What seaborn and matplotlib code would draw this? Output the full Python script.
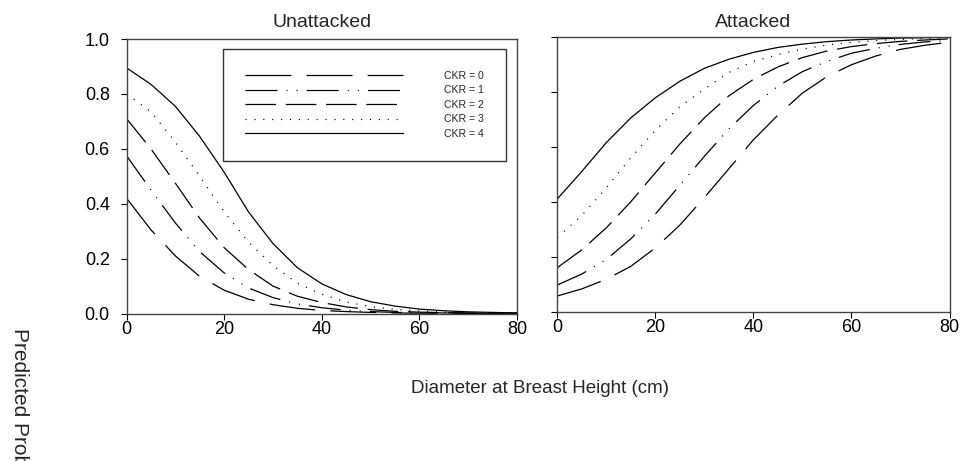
import matplotlib
matplotlib.use("Agg")
import matplotlib.pyplot as plt
import seaborn as sns
import pandas as pd

# --- data ---
dbh = [0, 5, 10, 15, 20, 25, 30, 35, 40, 45, 50, 55, 60, 65, 70, 75, 80]
ckr_labels = ["CKR = 0", "CKR = 1", "CKR = 2", "CKR = 3", "CKR = 4"]

unatt_ckr0 = [0.42, 0.305, 0.21, 0.135, 0.085, 0.052, 0.032, 0.019, 0.011, 0.007, 0.004, 0.002, 0.001, 0.001, 0.0005, 0.0003, 0.0002]
unatt_ckr1 = [0.575, 0.45, 0.33, 0.225, 0.148, 0.093, 0.058, 0.035, 0.021, 0.012, 0.007, 0.004, 0.003, 0.002, 0.001, 0.001, 0.0005]
unatt_ckr2 = [0.71, 0.60, 0.475, 0.347, 0.24, 0.16, 0.10, 0.063, 0.04, 0.024, 0.014, 0.008, 0.005, 0.003, 0.002, 0.001, 0.001]
unatt_ckr3 = [0.80, 0.735, 0.625, 0.50, 0.37, 0.26, 0.175, 0.11, 0.07, 0.042, 0.025, 0.015, 0.009, 0.005, 0.003, 0.002, 0.001]
unatt_ckr4 = [0.895, 0.835, 0.755, 0.645, 0.515, 0.37, 0.255, 0.167, 0.108, 0.069, 0.043, 0.027, 0.016, 0.010, 0.006, 0.004, 0.002]

att_ckr0 = [0.057, 0.083, 0.118, 0.165, 0.232, 0.315, 0.415, 0.52, 0.625, 0.715, 0.795, 0.855, 0.898, 0.93, 0.954, 0.969, 0.98]
att_ckr1 = [0.097, 0.137, 0.19, 0.265, 0.355, 0.46, 0.565, 0.665, 0.75, 0.82, 0.873, 0.91, 0.94, 0.958, 0.972, 0.981, 0.987]
att_ckr2 = [0.16, 0.225, 0.305, 0.40, 0.505, 0.61, 0.705, 0.785, 0.845, 0.89, 0.924, 0.948, 0.964, 0.975, 0.983, 0.988, 0.992]
att_ckr3 = [0.27, 0.35, 0.45, 0.56, 0.66, 0.745, 0.81, 0.87, 0.91, 0.935, 0.955, 0.97, 0.979, 0.986, 0.99, 0.993, 0.995]
att_ckr4 = [0.41, 0.51, 0.615, 0.705, 0.778, 0.838, 0.885, 0.918, 0.943, 0.961, 0.973, 0.982, 0.988, 0.992, 0.995, 0.9965, 0.9976]

x_ticks = [0, 20, 40, 60, 80]
y_ticks = [0.0, 0.2, 0.4, 0.6, 0.8, 1.0]


def long_table(series):
    rows = []
    for lab, vals in zip(ckr_labels, series):
        for d, p in zip(dbh, vals):
            rows.append({"DBH": d, "P": p, "CKR": lab})
    return pd.DataFrame(rows)


df_unatt = long_table([unatt_ckr0, unatt_ckr1, unatt_ckr2, unatt_ckr3, unatt_ckr4])
df_att = long_table([att_ckr0, att_ckr1, att_ckr2, att_ckr3, att_ckr4])

# --- style ---
sns.set_theme(style="ticks")
plt.rcParams["font.family"] = ["Liberation Sans", "DejaVu Sans"]
plt.rcParams["lines.scale_dashes"] = False

# dash patterns in points (on, off, ...)
dash_styles = {
    "CKR = 0": (33, 11),
    "CKR = 1": (23, 6.5, 0.8, 6.5, 0.8, 6.5),
    "CKR = 2": (22, 7),
    "CKR = 3": (0.8, 5.6),
    "CKR = 4": "",
}
black = {lab: "black" for lab in ckr_labels}

fig = plt.figure(figsize=(9.64, 4.61), dpi=100)
ax1 = fig.add_axes([126.5 / 964, 1 - 313.5 / 461, 390.5 / 964, 274.5 / 461])
ax2 = fig.add_axes([557.3 / 964, 1 - 311.7 / 461, 392.2 / 964, 275.0 / 461])

panels = [(ax1, df_unatt, "Unattacked", 8.8), (ax2, df_att, "Attacked", 6.8)]
for ax, df, title, tpad in panels:
    sns.lineplot(data=df, x="DBH", y="P", hue="CKR", style="CKR",
                 palette=black, dashes=dash_styles, linewidth=0.9,
                 legend=(ax is ax1), ax=ax)
    ax.set_xlim(0, 80)
    ax.set_ylim(0, 1)
    ax.set_xticks(x_ticks)
    ax.set_yticks(y_ticks)
    ax.set_xlabel("")
    ax.set_ylabel("")
    ax.set_title(title, fontsize=14, pad=tpad)
    ax.tick_params(direction="out", length=4, width=0.8, labelsize=13,
                   colors="black")
    ax.tick_params(axis="x", pad=1.5)
    ax.tick_params(axis="y", pad=8)
    for side in ["left", "bottom", "top", "right"]:
        ax.spines[side].set_visible(True)
        ax.spines[side].set_color("#444444")
        ax.spines[side].set_linewidth(1.0)

ax1.set_yticklabels([f"{v:.1f}" for v in y_ticks])
ax2.tick_params(labelleft=False)

# legend with the line samples first and labels on the right
old = ax1.get_legend()
handles = old.legend_handles
labels = [t.get_text() for t in old.texts]
old.remove()
leg = ax1.legend(handles, labels, loc="upper left", bbox_to_anchor=(0.247, 0.964),
                 borderaxespad=0, fontsize=7.6, handlelength=15, handletextpad=3.8,
                 borderpad=2.1, labelspacing=0.42, fancybox=False, frameon=True,
                 framealpha=1, edgecolor="#333333")
leg.get_frame().set_linewidth(1.0)

fig.text(540 / 964, 1 - 388 / 461, "Diameter at Breast Height (cm)",
         ha="center", va="center", fontsize=13.5)
# the reference shows this label running off the bottom edge
fig.text(19 / 964, 1 - 328 / 461, "Predicted Probability", rotation=270,
         ha="center", va="top", fontsize=15)

fig.savefig("out.png", dpi=100)
